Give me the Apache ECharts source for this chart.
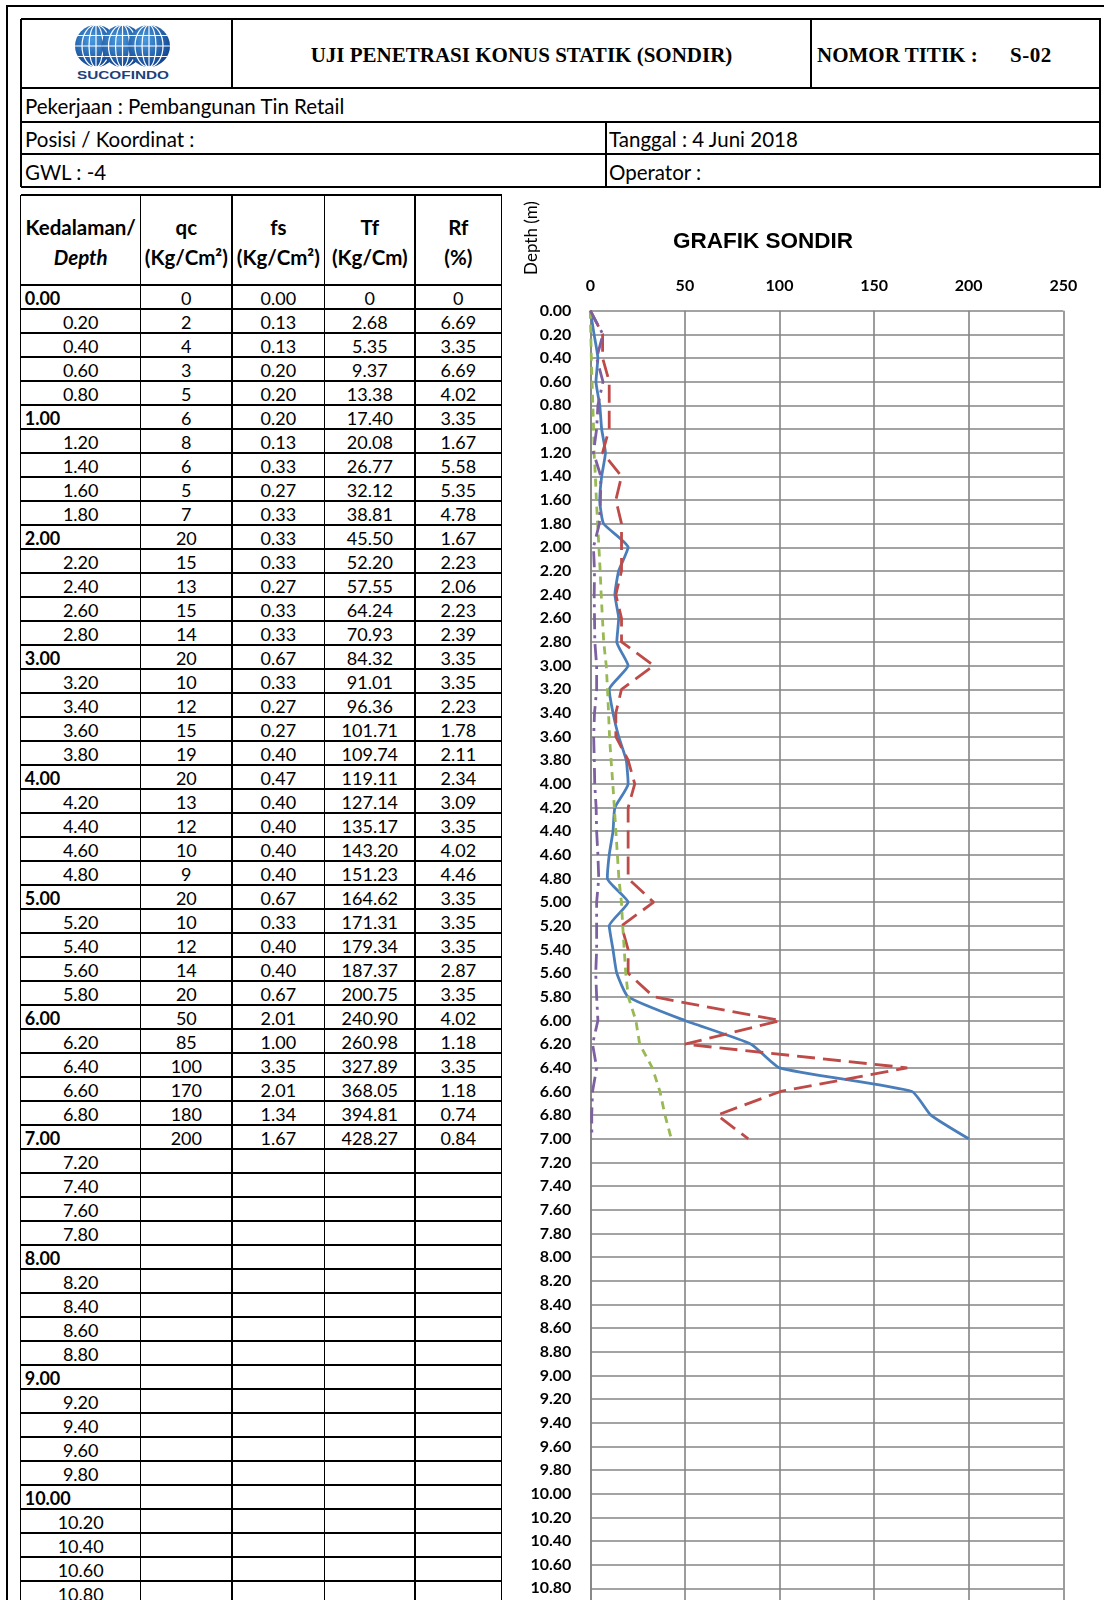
<!DOCTYPE html>
<html>
<head>
<meta charset="utf-8">
<script src="https://cdn.jsdelivr.net/npm/echarts@6/dist/echarts.min.js"></script>
<style>
html, body { margin: 0; padding: 0; overflow: hidden; background: #fff; width: 1104px; height: 1600px; }
body { position: relative; font-family: Lato, 'Open Sans', sans-serif; color: #000; }
.ln { position: absolute; background: #000; }
.tx { position: absolute; white-space: nowrap; }
.serif { font-family: 'Liberation Serif', 'DejaVu Serif', serif; font-weight: bold; font-size: 21px; }
.info { font-size: 20.5px; line-height: 28px; }
.cell { position: absolute; height: 24px; line-height: 24px; font-size: 18px; text-align: center; white-space: nowrap; }
.hd { position: absolute; font-size: 20.5px; font-weight: bold; text-align: center; line-height: 30px; white-space: nowrap; }
#chart { position: absolute; left: 500px; top: 190px; width: 604px; height: 1430px; }
</style>
</head>
<body>
<div id="page"></div>
<svg style="position:absolute;left:70px;top:22px" width="110" height="60">
  <defs>
    <radialGradient id="gl" cx="40%" cy="35%" r="75%">
      <stop offset="0" stop-color="#4a9be0"/>
      <stop offset="1" stop-color="#0a3a85"/>
    </radialGradient>
  </defs>
  <g id="globe1" transform="translate(26,24)">
    <circle r="21" fill="url(#gl)"/>
    <ellipse rx="7" ry="21" fill="none" stroke="#fff" stroke-width="1.2"/>
    <ellipse rx="14" ry="21" fill="none" stroke="#fff" stroke-width="1.2"/>
    <line x1="0" y1="-21" x2="0" y2="21" stroke="#fff" stroke-width="1.2"/>
    <line x1="-21" y1="0" x2="21" y2="0" stroke="#fff" stroke-width="1.2"/>
    <line x1="-18" y1="-10.5" x2="18" y2="-10.5" stroke="#fff" stroke-width="1.2"/>
    <line x1="-18" y1="10.5" x2="18" y2="10.5" stroke="#fff" stroke-width="1.2"/>
  </g>
  <use href="#globe1" x="26.5" y="0"/>
  <use href="#globe1" x="53" y="0"/>
  <text x="53" y="57" text-anchor="middle" font-family="Liberation Sans, Arial, sans-serif" font-weight="900" font-size="11.5" textLength="92" lengthAdjust="spacingAndGlyphs" fill="#1d3f7a">SUCOFINDO</text>
</svg>
<div id="chart"></div>
<script>
// depth (m) of each reading
var depth = [0.00, 0.20, 0.40, 0.60, 0.80, 1.00, 1.20, 1.40, 1.60, 1.80,
  2.00, 2.20, 2.40, 2.60, 2.80, 3.00, 3.20, 3.40, 3.60, 3.80,
  4.00, 4.20, 4.40, 4.60, 4.80, 5.00, 5.20, 5.40, 5.60, 5.80,
  6.00, 6.20, 6.40, 6.60, 6.80, 7.00];
// table columns
var qc = [0, 2, 4, 3, 5, 6, 8, 6, 5, 7, 20, 15, 13, 15, 14, 20, 10, 12, 15, 19,
  20, 13, 12, 10, 9, 20, 10, 12, 14, 20, 50, 85, 100, 170, 180, 200];
var fs = [0.00, 0.13, 0.13, 0.20, 0.20, 0.20, 0.13, 0.33, 0.27, 0.33, 0.33, 0.33, 0.27, 0.33, 0.33, 0.67, 0.33, 0.27, 0.27, 0.40,
  0.47, 0.40, 0.40, 0.40, 0.40, 0.67, 0.33, 0.40, 0.40, 0.67, 2.01, 1.00, 3.35, 2.01, 1.34, 1.67];
var tf = [0, 2.68, 5.35, 9.37, 13.38, 17.40, 20.08, 26.77, 32.12, 38.81, 45.50, 52.20, 57.55, 64.24, 70.93, 84.32, 91.01, 96.36,
  101.71, 109.74, 119.11, 127.14, 135.17, 143.20, 151.23, 164.62, 171.31, 179.34, 187.37, 200.75, 240.90, 260.98, 327.89, 368.05, 394.81, 428.27];
var rf = [0, 6.69, 3.35, 6.69, 4.02, 3.35, 1.67, 5.58, 5.35, 4.78, 1.67, 2.23, 2.06, 2.23, 2.39, 3.35, 3.35, 2.23, 1.78, 2.11,
  2.34, 3.09, 3.35, 4.02, 4.46, 3.35, 3.35, 3.35, 2.87, 3.35, 4.02, 1.18, 3.35, 1.18, 0.74, 0.84];
// values as plotted on the graph (fs and Tf are scaled in the sheet)
var fsPlot = [0, 6.5, 6.5, 10, 10, 10, 6.5, 16.5, 13.5, 16.5, 16.5, 16.5, 13.5, 16.5, 16.5, 33.5, 16.5, 13.5, 13.5, 20,
  23.5, 20, 20, 20, 20, 33.5, 16.5, 20, 20, 33.5, 100.5, 50, 167.5, 100.5, 67, 83.5];
var tfPlot = [0, 0.27, 0.54, 0.94, 1.34, 1.74, 2.01, 2.68, 3.21, 3.88, 4.55, 5.22, 5.76, 6.42, 7.09, 8.43, 9.10, 9.64,
  10.17, 10.97, 11.91, 12.71, 13.52, 14.32, 15.12, 16.46, 17.13, 17.93, 18.74, 20.08, 24.09, 26.10, 32.79, 36.81, 39.48, 42.83];
// rows of the depth column
var rowLabels = ['0.00', '0.20', '0.40', '0.60', '0.80', '1.00', '1.20', '1.40', '1.60', '1.80',
  '2.00', '2.20', '2.40', '2.60', '2.80', '3.00', '3.20', '3.40', '3.60', '3.80',
  '4.00', '4.20', '4.40', '4.60', '4.80', '5.00', '5.20', '5.40', '5.60', '5.80',
  '6.00', '6.20', '6.40', '6.60', '6.80', '7.00', '7.20', '7.40', '7.60', '7.80',
  '8.00', '8.20', '8.40', '8.60', '8.80', '9.00', '9.20', '9.40', '9.60', '9.80',
  '10.00', '10.20', '10.40', '10.60', '10.80', '11.00'];
var xTicks = [0, 50, 100, 150, 200, 250];

var page = document.getElementById('page');
function el(cls, css, html) {
  var d = document.createElement('div');
  d.className = cls;
  d.style.cssText = css;
  if (html != null) d.innerHTML = html;
  page.appendChild(d);
  return d;
}
function hline(x1, x2, y, w) { el('ln', 'left:' + x1 + 'px;top:' + (y - w / 2) + 'px;width:' + (x2 - x1 + w / 2) + 'px;height:' + w + 'px'); }
function vline(x, y1, y2, w) { el('ln', 'left:' + (x - w / 2) + 'px;top:' + y1 + 'px;width:' + w + 'px;height:' + (y2 - y1) + 'px'); }

// outer frame
hline(6, 1110, 6, 2.2);
vline(7, 5, 1610, 2.4);

// header block
var LW = 1.6;
hline(21, 1100, 19, LW); hline(21, 1100, 88, LW); hline(21, 1100, 122, LW); hline(21, 1100, 154, LW); hline(21, 1100, 187, LW);
vline(21, 19, 187, LW); vline(1100, 19, 187, LW);
vline(232, 19, 88, LW); vline(811, 19, 88, LW); vline(606, 122, 187, LW);
el('tx serif', 'left:232px;width:579px;top:40px;text-align:center;line-height:30px', 'UJI PENETRASI KONUS STATIK (SONDIR)');
el('tx serif', 'left:817px;top:40px;line-height:30px', 'NOMOR TITIK :');
el('tx serif', 'left:1010px;top:40px;line-height:30px;letter-spacing:0.5px', 'S-02');
el('tx info', 'left:25px;top:92px', 'Pekerjaan : Pembangunan Tin Retail');
el('tx info', 'left:25px;top:125px', 'Posisi / Koordinat :');
el('tx info', 'left:609px;top:125px', 'Tanggal : 4 Juni 2018');
el('tx info', 'left:25px;top:158px', 'GWL : -4');
el('tx info', 'left:609px;top:158px', 'Operator :');

// data table
var colX = [20.7, 140.7, 232, 324.7, 415, 501.7];
var tTop = 195, hBot = 285, rowH = 24;
var tBot = hBot + rowH * rowLabels.length;
colX.forEach(function (x) { vline(x, tTop, tBot, LW); });
hline(colX[0], colX[5], tTop, LW);
hline(colX[0], colX[5], hBot, LW);
rowLabels.forEach(function (r, i) { hline(colX[0], colX[5], hBot + rowH * (i + 1), LW); });

var heads = [['Kedalaman/', '<i>Depth</i>'], ['qc', '(Kg/Cm²)'], ['fs', '(Kg/Cm²)'], ['Tf', '(Kg/Cm)'], ['Rf', '(%)']];
heads.forEach(function (h, c) {
  var w = colX[c + 1] - colX[c];
  el('hd', 'left:' + colX[c] + 'px;width:' + w + 'px;top:212px', h[0]);
  el('hd', 'left:' + colX[c] + 'px;width:' + w + 'px;top:242px', h[1]);
});

function fmt2(v) { return v === 0 ? '0' : v.toFixed(2); }
rowLabels.forEach(function (r, i) {
  var top = hBot + rowH * i + 1;
  var bold = r.slice(-3) === '.00';
  var w0 = colX[1] - colX[0];
  if (bold) el('cell', 'left:' + (colX[0] + 4) + 'px;width:' + (w0 - 4) + 'px;top:' + top + 'px;text-align:left;font-weight:bold', r);
  else el('cell', 'left:' + colX[0] + 'px;width:' + w0 + 'px;top:' + top + 'px', r);
  if (i < qc.length) {
    var vals = [String(qc[i]), fs[i].toFixed(2), fmt2(tf[i]), fmt2(rf[i])];
    vals.forEach(function (v, k) {
      var c = k + 1;
      el('cell', 'left:' + colX[c] + 'px;width:' + (colX[c + 1] - colX[c]) + 'px;top:' + top + 'px', v);
    });
  }
});

// chart
var myChart = echarts.init(document.getElementById('chart'));
function pairs(arr) { return arr.map(function (v, i) { return [v, depth[i]]; }); }
var gridColor = '#858585';

myChart.setOption({
  animation: false,
  grid: { left: 90.3, top: 120.7, width: 473, height: 1301.3, containLabel: false, outerBoundsMode: 'none' },
  graphic: [
    {
      type: 'text', x: 32, y: 48, rotation: Math.PI / 2,
      style: { text: 'Depth (m)', fontSize: 17, fontFamily: 'Lato', fill: '#000', textAlign: 'center', textVerticalAlign: 'middle' }
    },
    {
      type: 'text', x: 263, y: 52,
      style: { text: 'GRAFIK SONDIR', fontSize: 22.5, fontWeight: 'bold', fontFamily: 'Liberation Sans', fill: '#000', textAlign: 'center', textVerticalAlign: 'middle' }
    }
  ],
  xAxis: {
    type: 'value', position: 'top',
    min: xTicks[0], max: xTicks[xTicks.length - 1], interval: 50,
    axisLine: { show: false },
    axisTick: { show: false },
    axisLabel: { margin: 17, fontSize: 16, fontWeight: 'bold', fontFamily: 'Lato', color: '#000' },
    splitLine: { show: true, lineStyle: { color: gridColor, width: 1.6 } }
  },
  yAxis: {
    type: 'value', inverse: true, min: 0, max: 11, interval: 0.2,
    axisLine: { show: true, lineStyle: { color: gridColor, width: 1.6 } },
    axisTick: { show: false },
    axisLabel: {
      margin: 19, fontSize: 16, fontWeight: 'bold', fontFamily: 'Lato', color: '#000',
      formatter: function (v) { return v.toFixed(2); }
    },
    splitLine: { show: true, lineStyle: { color: gridColor, width: 1.6 } }
  },
  series: [
    { name: 'qc', type: 'line', data: pairs(qc), showSymbol: false, smooth: 0.15,
      lineStyle: { color: '#4a7ebb', width: 2.8 } },
    { name: 'fs', type: 'line', data: pairs(fsPlot), showSymbol: false,
      lineStyle: { color: '#be4b48', width: 2.8, type: [18, 8] } },
    { name: 'Tf', type: 'line', data: pairs(tfPlot), showSymbol: false,
      lineStyle: { color: '#98b954', width: 2.8, type: [8, 6] } },
    { name: 'Rf', type: 'line', data: pairs(rf), showSymbol: false,
      lineStyle: { color: '#7d60a0', width: 2.8, type: [16, 6, 3, 6] } }
  ]
});
</script>
</body>
</html>
